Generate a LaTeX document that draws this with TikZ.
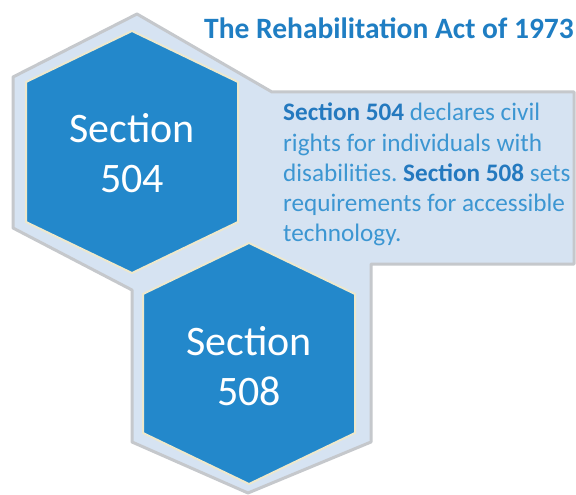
\documentclass[tikz,border=0pt]{standalone}
\usepackage{fontspec}
\setmainfont{Carlito}
\frenchspacing
\definecolor{hexblue}{HTML}{2388CB}
\definecolor{panelfill}{HTML}{D6E3F2}
\definecolor{edgegray}{HTML}{C5C8CC}
\definecolor{cream}{HTML}{EEE8CC}
\definecolor{titleblue}{HTML}{1F7EC3}
\definecolor{bodyblue}{HTML}{3C96D2}
\definecolor{boldblue}{HTML}{2479BF}
\tikzset{
  panelshape/.style={fill=panelfill, draw=edgegray, line width=3pt, line join=round},
  hexshape/.style={fill=hexblue, draw=cream, line width=2pt, line join=miter},
  hexlabel/.style={anchor=base, inner sep=0pt, text=white, font=\fontsize{42}{50}\selectfont},
  bodyline/.style={anchor=base west, inner sep=0pt, text=bodyblue, font=\fontsize{25.2}{30}\selectfont},
  titletext/.style={anchor=base east, inner sep=0pt, text=titleblue, font=\bfseries\fontsize{29.5}{34}\selectfont}
}
\newcommand{\hl}[1]{{\bfseries\color{boldblue}#1}}
\begin{document}
\begin{tikzpicture}[x=1pt,y=-1pt]
\useasboundingbox (0,0) rectangle (576,495);
\fill[white] (0,0) rectangle (576,495);
% background merged shape
\draw[panelshape] (137,14) -- (272,92) -- (574,92) -- (574,264) -- (371,264) -- (371,442)
  -- (248,493) -- (132,442) -- (132,290) -- (13,228) -- (13,77) -- cycle;
% inner hexagons
\draw[hexshape] (132,31) -- (238,82) -- (238,222) -- (132,273) -- (26,222) -- (26,82) -- cycle;
\draw[hexshape] (249,243) -- (355,294) -- (355,433) -- (249,484) -- (143,433) -- (143,294) -- cycle;
% title
\node[titletext] (title) at (574,39) {The Rehabilitation Act of 1973};
% hex labels
\node[hexlabel] (s504a) at (132,142) {Section};
\node[hexlabel] (s504b) at (132,192) {504};
\node[hexlabel] (s508a) at (249,355) {Section};
\node[hexlabel] (s508b) at (249,405) {508};
% body text
\node[bodyline] (l1) at (283,121) {\hl{Section 504} declares civil};
\node[bodyline] (l2) at (283,151) {rights for individuals with};
\node[bodyline] (l3) at (283,181) {disabilities. \hl{Section 508} sets};
\node[bodyline] (l4) at (283,211) {requirements for accessible};
\node[bodyline] (l5) at (283,241) {technology.};
\end{tikzpicture}
\end{document}
